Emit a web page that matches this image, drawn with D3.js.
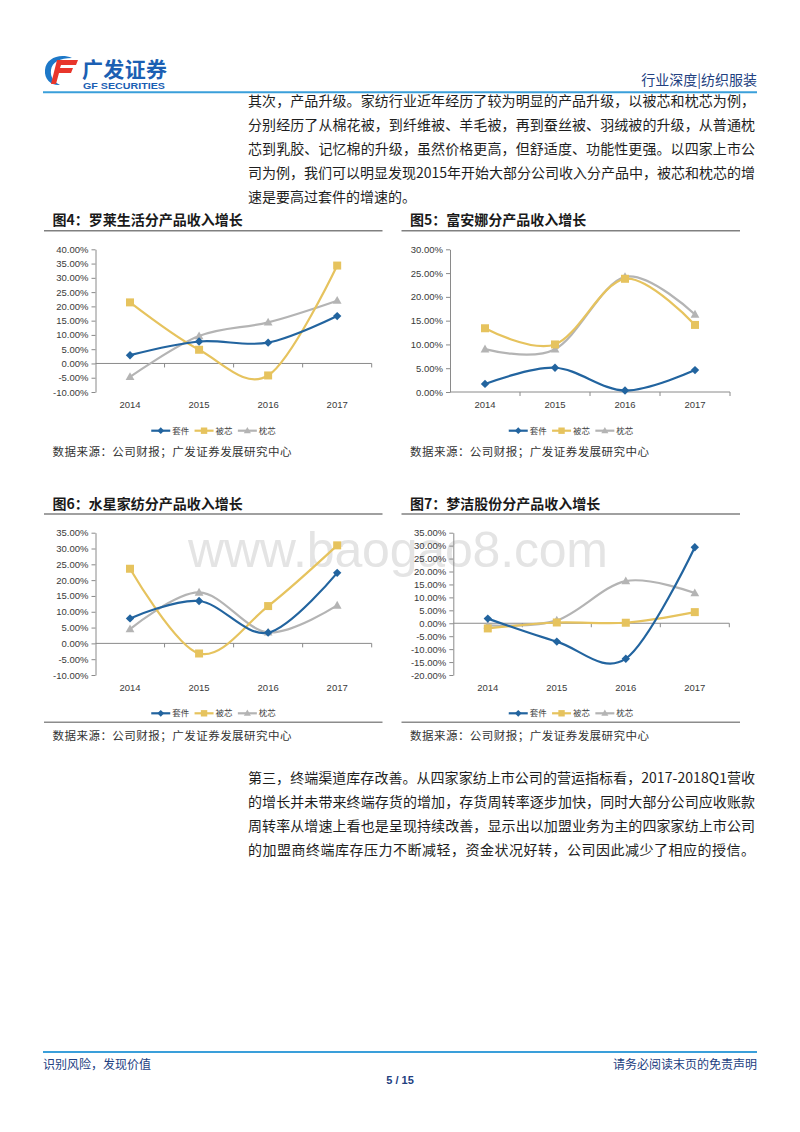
<!DOCTYPE html>
<html><head><meta charset="utf-8">
<script src="https://cdn.jsdelivr.net/npm/d3@7"></script>
<style>body{margin:0;background:#fff}svg{display:block}</style>
</head><body><svg id="page" width="800" height="1132"></svg>
<script>
// ---------- DATA ----------
const years = ["2014", "2015", "2016", "2017"];
const seriesNames = ["套件", "被芯", "枕芯"];

// 图4 罗莱生活
const luolaiTaojian = [2.9, 7.7, 7.3, 16.6];
const luolaiBeixin  = [21.4, 4.8, -4.2, 34.3];
const luolaiZhenxin = [-4.7, 9.6, 14.4, 22.0];
const ticks4 = [-10, -5, 0, 5, 10, 15, 20, 25, 30, 35, 40];

// 图5 富安娜
const fuannaTaojian = [1.7, 5.1, 0.3, 4.6];
const fuannaBeixin  = [13.4, 10.0, 23.8, 14.1];
const fuannaZhenxin = [9.0, 9.0, 24.2, 16.3];
const ticks5 = [0, 5, 10, 15, 20, 25, 30];

// 图6 水星家纺
const shuixingTaojian = [7.9, 13.4, 3.4, 22.3];
const shuixingBeixin  = [23.6, -3.2, 11.8, 31.0];
const shuixingZhenxin = [4.5, 16.1, 3.5, 12.0];
const ticks6 = [-10, -5, 0, 5, 10, 15, 20, 25, 30, 35];

// 图7 梦洁股份
const mengjieTaojian = [1.8, -7.1, -13.7, 29.4];
const mengjieBeixin  = [-2.0, 0.3, 0.2, 4.3];
const mengjieZhenxin = [-0.8, 1.1, 16.3, 11.7];
const ticks7 = [-20, -15, -10, -5, 0, 5, 10, 15, 20, 25, 30, 35];

const chartTitles = ["图4：罗莱生活分产品收入增长", "图5：富安娜分产品收入增长", "图6：水星家纺分产品收入增长", "图7：梦洁股份分产品收入增长"];
const sourceText = "数据来源：公司财报；广发证券发展研究中心";

const para1 = [
  "其次，产品升级。家纺行业近年经历了较为明显的产品升级，以被芯和枕芯为例，",
  "分别经历了从棉花被，到纤维被、羊毛被，再到蚕丝被、羽绒被的升级，从普通枕",
  "芯到乳胶、记忆棉的升级，虽然价格更高，但舒适度、功能性更强。以四家上市公",
  "司为例，我们可以明显发现2015年开始大部分公司收入分产品中，被芯和枕芯的增",
  "速是要高过套件的增速的。"
];
const para2 = [
  "第三，终端渠道库存改善。从四家家纺上市公司的营运指标看，2017-2018Q1营收",
  "的增长并未带来终端存货的增加，存货周转率逐步加快，同时大部分公司应收账款",
  "周转率从增速上看也是呈现持续改善，显示出以加盟业务为主的四家家纺上市公司",
  "的加盟商终端库存压力不断减轻，资金状况好转，公司因此减少了相应的授信。"
];

// ---------- STYLE ----------
const CJK = "'Noto Sans CJK SC', 'Liberation Sans', sans-serif";
const LAT = "'Liberation Sans', Arial, sans-serif";
const colors = ["#22649f", "#e6c35e", "#b4b4b4"];
const navy = "#22407f";
const headBlue = "#3a9fda";

const svg = d3.select("#page");
svg.append("rect").attr("width", 800).attr("height", 1132).attr("fill", "#fff");

// ---------- HEADER ----------
const logo = svg.append("g");
logo.append("path") // blue swirl
  .attr("d", "M72,58 C60,53 46,58 45,70 C44,80 52,86 60,85 C54,82 50,77 51,70 C52,62 60,58 72,58 Z")
  .attr("fill", "#1d78c8");
logo.append("path") // red F
  .attr("d", "M57,60 L78,60 L76,65 L61,65 L60,68 L73,68 L71,73 L59,73 L56,84 L51,84 Z")
  .attr("fill", "#e8362b");
logo.append("text").attr("x", 82).attr("y", 76.5).text("广发证券")
  .attr("font-family", CJK).attr("font-weight", "bold").attr("font-size", 21)
  .attr("textLength", 85).attr("fill", "#1b5fb3");
logo.append("text").attr("x", 83).attr("y", 88.5).text("GF SECURITIES")
  .attr("font-family", LAT).attr("font-weight", "bold").attr("font-size", 8.5)
  .attr("textLength", 82).attr("lengthAdjust", "spacingAndGlyphs").attr("fill", "#1b5fb3");
svg.append("text").attr("x", 757).attr("y", 85).attr("text-anchor", "end")
  .text("行业深度|纺织服装").attr("font-family", CJK).attr("font-size", 14).attr("fill", navy);
svg.append("line").attr("x1", 43).attr("x2", 757).attr("y1", 92.3).attr("y2", 92.3)
  .attr("stroke", headBlue).attr("stroke-width", 2);

// ---------- BODY TEXT ----------
function paragraph(lines, y0, fullCount) {
  lines.forEach((t, i) => {
    const el = svg.append("text").attr("x", 248).attr("y", y0 + i * 24.1).text(t)
      .attr("font-family", CJK).attr("font-size", 14).attr("fill", "#1e1e1e");
    if (i < fullCount) el.attr("textLength", 507).attr("lengthAdjust", "spacing");
  });
}
paragraph(para1, 106, 4);
paragraph(para2, 783, 4);

// ---------- WATERMARK ----------
svg.append("text").attr("x", 188).attr("y", 567).text("www.baogao8.com")
  .attr("font-family", LAT).attr("font-size", 50).attr("textLength", 420)
  .attr("fill", "#e4e4e4");

// ---------- CHARTS ----------
function markerPath(type) {
  if (type === 0) return "M0,-4.2L4.2,0L0,4.2L-4.2,0Z";
  if (type === 1) return "M-4,-4H4V4H-4Z";
  return "M0,-4.6L4.4,3.2H-4.4Z";
}

function drawChart(cfg) {
  const g = svg.append("g");
  const x = d3.scaleBand().domain(years).range([cfg.x0, cfg.x1]).padding(0);
  const y = d3.scaleLinear().domain([d3.min(cfg.ticks), d3.max(cfg.ticks)]).range([cfg.yBottom, cfg.yTop]);

  // title
  g.append("text").attr("x", cfg.titleX).attr("y", cfg.titleY).text(cfg.title)
    .attr("font-family", CJK).attr("font-weight", "bold").attr("font-size", 14).attr("fill", "#1a1a1a");
  g.append("line").attr("x1", cfg.box[0]).attr("x2", cfg.box[1])
    .attr("y1", cfg.underY).attr("y2", cfg.underY).attr("stroke", "#808080").attr("stroke-width", 1.5);

  // y axis
  const ya = g.append("g").attr("transform", `translate(${cfg.x0},0)`)
    .call(d3.axisLeft(y).tickValues(cfg.ticks).tickFormat(d => d.toFixed(2) + "%").tickSize(4).tickSizeOuter(0));
  ya.select(".domain").attr("stroke", "#8a8a8a");
  ya.selectAll(".tick line").attr("stroke", "#8a8a8a");
  ya.selectAll("text").attr("font-family", LAT).attr("font-size", 9.5).attr("fill", "#3a3a3a");

  // x axis line at 0 with band boundary ticks
  const y0 = y(0);
  g.append("line").attr("x1", cfg.x0).attr("x2", cfg.x1).attr("y1", y0).attr("y2", y0)
    .attr("stroke", "#8a8a8a");
  years.forEach((yr, i) => {
    const bx = x(yr) + x.bandwidth();
    g.append("line").attr("x1", bx).attr("x2", bx).attr("y1", y0).attr("y2", y0 + 4).attr("stroke", "#8a8a8a");
  });
  const xa = g.append("g").attr("transform", `translate(0,${cfg.labelY - 6})`)
    .call(d3.axisBottom(x).tickSize(0).tickPadding(0));
  xa.select(".domain").remove();
  xa.selectAll("text").attr("font-family", LAT).attr("font-size", 9.5).attr("fill", "#3a3a3a");

  // lines
  const line = d3.line()
    .x((d, i) => x(years[i]) + x.bandwidth() / 2)
    .y(d => y(d))
    .curve(d3.curveCardinal.tension(0));
  const order = [2, 1, 0];
  order.forEach(s => {
    g.append("path").attr("d", line(cfg.series[s])).attr("fill", "none")
      .attr("stroke", colors[s]).attr("stroke-width", 2.2);
  });
  order.forEach(s => {
    cfg.series[s].forEach((v, i) => {
      g.append("path").attr("d", markerPath(s))
        .attr("transform", `translate(${x(years[i]) + x.bandwidth() / 2},${y(v)})`)
        .attr("fill", colors[s]);
    });
  });

  // legend
  const center = (cfg.box[0] + cfg.box[1]) / 2 + 1;
  const start = center - 63;
  seriesNames.forEach((n, i) => {
    const lx = start + i * 43.3;
    g.append("line").attr("x1", lx).attr("x2", lx + 19).attr("y1", cfg.legendY).attr("y2", cfg.legendY)
      .attr("stroke", colors[i]).attr("stroke-width", 2.2);
    g.append("path").attr("d", markerPath(i))
      .attr("transform", `translate(${lx + 9.5},${cfg.legendY}) scale(0.8)`).attr("fill", colors[i]);
    g.append("text").attr("x", lx + 21).attr("y", cfg.legendY + 3).text(n)
      .attr("font-family", CJK).attr("font-size", 8.5).attr("fill", "#404040");
  });

  if (cfg.bottomY) {
    g.append("line").attr("x1", cfg.box[0]).attr("x2", cfg.box[1])
      .attr("y1", cfg.bottomY).attr("y2", cfg.bottomY).attr("stroke", "#8c8c8c").attr("stroke-width", 1.5);
  }
  g.append("text").attr("x", cfg.titleX).attr("y", cfg.sourceY).text(sourceText)
    .attr("font-family", CJK).attr("font-size", 11.5).attr("fill", "#333")
    .attr("textLength", 239).attr("lengthAdjust", "spacing");
}

drawChart({ title: chartTitles[0], titleX: 52.5, titleY: 225, underY: 230.7, box: [44, 382.5],
  x0: 95.5, x1: 371.7, yTop: 249.3, yBottom: 392, ticks: ticks4,
  series: [luolaiTaojian, luolaiBeixin, luolaiZhenxin], labelY: 407, legendY: 430.7, sourceY: 456 });
drawChart({ title: chartTitles[1], titleX: 410, titleY: 225, underY: 230.7, box: [401.5, 740],
  x0: 450, x1: 730, yTop: 249.3, yBottom: 392, ticks: ticks5,
  series: [fuannaTaojian, fuannaBeixin, fuannaZhenxin], labelY: 407, legendY: 430.7, sourceY: 456 });
drawChart({ title: chartTitles[2], titleX: 52.5, titleY: 508.5, underY: 514, box: [44, 382.5],
  x0: 95.5, x1: 371.7, yTop: 532.7, yBottom: 675, ticks: ticks6,
  series: [shuixingTaojian, shuixingBeixin, shuixingZhenxin], labelY: 690.3, legendY: 713.3, bottomY: 722.3, sourceY: 739.5 });
drawChart({ title: chartTitles[3], titleX: 410, titleY: 508.5, underY: 514, box: [401.5, 740],
  x0: 453.3, x1: 729.3, yTop: 532.7, yBottom: 675, ticks: ticks7,
  series: [mengjieTaojian, mengjieBeixin, mengjieZhenxin], labelY: 690.3, legendY: 713.3, bottomY: 722.3, sourceY: 739.5 });

// ---------- FOOTER ----------
svg.append("line").attr("x1", 43).attr("x2", 757).attr("y1", 1052).attr("y2", 1052)
  .attr("stroke", headBlue).attr("stroke-width", 2);
svg.append("text").attr("x", 43).attr("y", 1068.5).text("识别风险，发现价值")
  .attr("font-family", CJK).attr("font-size", 12).attr("fill", navy);
svg.append("text").attr("x", 757).attr("y", 1068.5).attr("text-anchor", "end").text("请务必阅读末页的免责声明")
  .attr("font-family", CJK).attr("font-size", 12).attr("fill", navy);
svg.append("text").attr("x", 400).attr("y", 1084).attr("text-anchor", "middle").text("5 / 15")
  .attr("font-family", LAT).attr("font-weight", "bold").attr("font-size", 11).attr("fill", navy);
</script>
</body></html>
